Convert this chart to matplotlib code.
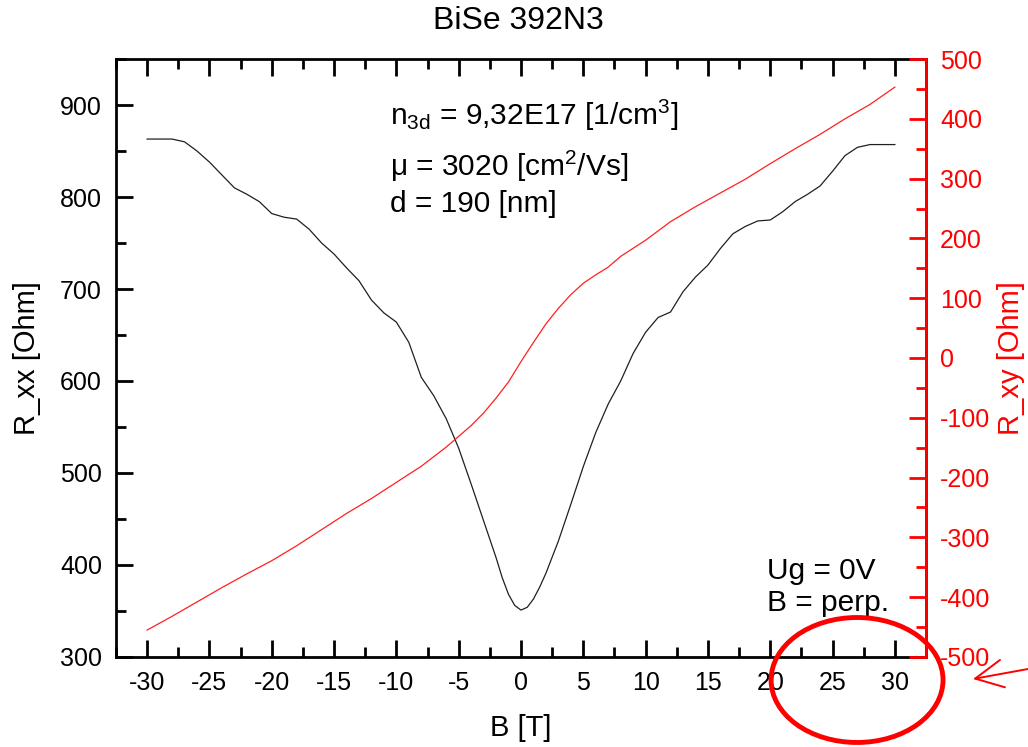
import matplotlib
matplotlib.use("Agg")
import matplotlib.pyplot as plt
from matplotlib.patches import Ellipse
from matplotlib.ticker import MultipleLocator

plt.rcParams['font.family'] = ['Liberation Sans', 'DejaVu Sans']
plt.rcParams['mathtext.fontset'] = 'custom'
plt.rcParams['mathtext.rm'] = 'Liberation Sans'
plt.rcParams['mathtext.it'] = 'Liberation Sans'
plt.rcParams['axes.unicode_minus'] = False

# longitudinal resistance vs field
b_xx = [-30, -29, -28, -27, -26, -25, -24, -23, -22, -21, -20, -19, -18, -17, -16,
        -15, -14, -13, -12, -11, -10, -9, -8, -7, -6, -5, -4, -3, -2, -1.5, -1, -0.5, 0,
        0.5, 1, 1.5, 2, 3, 4, 5, 6, 7, 8, 9, 10, 11, 12, 13, 14, 15, 16, 17, 18, 19, 20,
        21, 22, 23, 24, 25, 26, 27, 28, 29, 30]
r_xx = [863, 863, 863, 860, 850, 838, 824, 810, 803, 795, 782, 778, 776, 765, 750,
        738, 723, 709, 688, 674, 664, 642, 604, 584, 559, 527, 488, 448, 408, 386, 368, 356, 351,
        354, 363, 376, 391, 426, 466, 507, 544, 575, 600, 630, 653, 669, 675, 697, 713, 726, 744,
        760, 768, 774, 775, 784, 795, 803, 812, 828, 845, 854, 857, 857, 857]

# Hall resistance vs field
b_xy = [-30, -28, -26, -24, -22, -20, -18, -16, -14, -12, -10, -8, -6, -4, -3, -2,
        -1, 0, 1, 2, 3, 4, 5, 6, 7, 8, 10, 12, 14, 16, 18, 20, 22, 24, 26, 28, 30]
r_xy = [-455, -432, -408, -384, -361, -339, -314, -287, -260, -235, -208, -181,
        -149, -113, -92, -67, -40, -6, 26, 57, 83, 106, 125, 139, 152, 170, 197,
        228, 253, 276, 299, 325, 350, 374, 400, 424, 453]

fig = plt.figure(figsize=(10.28, 7.47), dpi=100)
ax = fig.add_axes([0.1128, 0.1205, 0.788, 0.8005])
ax2 = ax.twinx()

ax.plot(b_xx, r_xx, color='#202020', lw=0.9)
ax2.plot(b_xy, r_xy, color='#ff2020', lw=0.9)

ax.set_xlim(-32.5, 32.5)
ax.set_ylim(300, 950)
ax2.set_ylim(-500, 500)

ax.xaxis.set_major_locator(MultipleLocator(5))
ax.xaxis.set_minor_locator(MultipleLocator(2.5))
ax.yaxis.set_major_locator(MultipleLocator(100))
ax.yaxis.set_minor_locator(MultipleLocator(50))
ax2.yaxis.set_major_locator(MultipleLocator(100))
ax2.yaxis.set_minor_locator(MultipleLocator(50))

for s in ax.spines.values():
    s.set_linewidth(2)
ax2.spines['right'].set_color('red')
ax2.spines['right'].set_linewidth(2)
for s in ('left', 'top', 'bottom'):
    ax2.spines[s].set_visible(False)

ax.tick_params(axis='x', which='both', direction='in', top=True, labelsize=18, pad=10, width=2)
ax.tick_params(axis='y', which='both', direction='in', labelsize=18, pad=10, width=2)
ax.tick_params(which='major', length=12)
ax.tick_params(which='minor', length=7)
ax2.tick_params(axis='y', which='both', direction='in', colors='red', labelsize=18, pad=10, width=2)
ax2.tick_params(which='major', length=12)
ax2.tick_params(which='minor', length=7)

ax.set_xlabel('B [T]', fontsize=21, labelpad=14)
ax.set_ylabel('R_xx [Ohm]', fontsize=21, labelpad=14)
ax2.set_ylabel('R_xy [Ohm]', fontsize=21, color='red', labelpad=5)

fig.text(0.504, 0.972, 'BiSe 392N3', fontsize=23, ha='center', va='center')

ax.text(-10.5, 889, r'n$_{3d}$ = 9,32E17 [1/cm$^3$]', fontsize=21.5, va='center')
ax.text(-10.5, 833, r'μ = 3020 [cm$^2$/Vs]', fontsize=21.5, va='center')
ax.text(-10.5, 792, 'd = 190 [nm]', fontsize=21.5, va='center')
ax.text(19.7, 394, 'Ug = 0V', fontsize=21.5, va='center')
ax.text(19.7, 359, 'B = perp.', fontsize=21.5, va='center')

# red circle and arrow pointing at the upper end of the field axis
ell = Ellipse((0.8337, 0.0897), 0.1673, 0.1673, transform=fig.transFigure,
              fill=False, edgecolor='red', lw=3.5, clip_on=False)
fig.patches.append(ell)
ax.annotate('', xy=(973 / 1028, 1 - 679 / 747), xytext=(1.0, 1 - 669 / 747),
            xycoords='figure fraction', textcoords='figure fraction',
            arrowprops=dict(arrowstyle='->,head_length=1.0,head_width=0.5',
                            color='red', lw=1.4, mutation_scale=20,
                            shrinkA=0, shrinkB=0))

fig.savefig('out.png', dpi=100)
